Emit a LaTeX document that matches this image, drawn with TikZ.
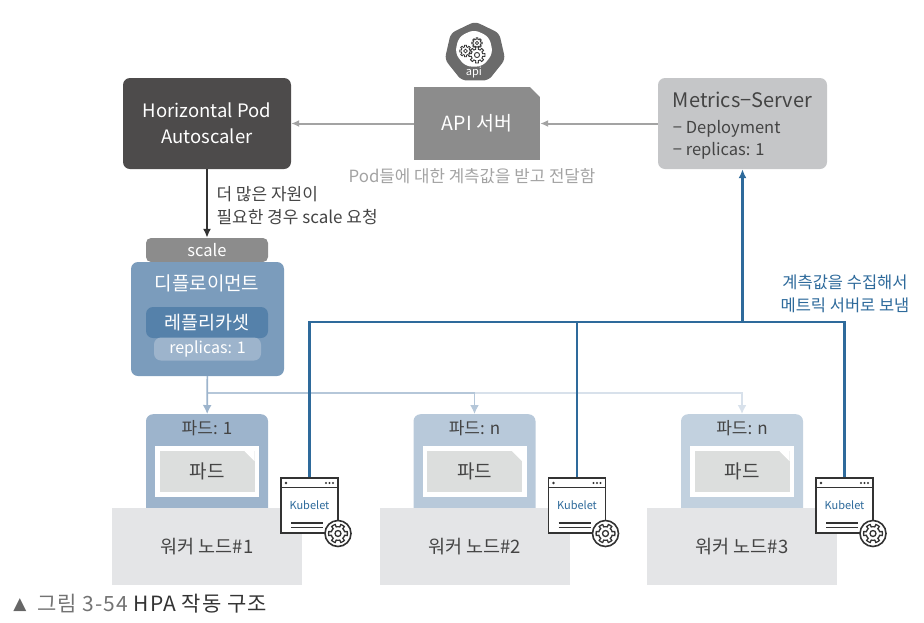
\documentclass[tikz,border=0pt]{standalone}
\usepackage{fontspec}
\setmainfont{Noto Sans CJK KR}
\newfontfamily\symfont{DejaVu Sans}
\newfontfamily\capfont[LetterSpace=5]{Noto Sans CJK KR}
\usetikzlibrary{arrows.meta,shapes.geometric}
\definecolor{DarkBox}{RGB}{77,75,75}
\definecolor{MidGray}{RGB}{140,140,140}
\definecolor{LightBox}{RGB}{197,198,200}
\definecolor{ArrowGray}{RGB}{163,163,163}
\definecolor{DeployBlue}{RGB}{123,156,188}
\definecolor{ReplicaBlue}{RGB}{85,129,170}
\definecolor{SoftBlue}{RGB}{157,180,204}
\definecolor{BusBlue}{RGB}{46,106,155}
\definecolor{WorkerGray}{RGB}{228,229,231}
\definecolor{InnerGray}{RGB}{220,222,221}
\definecolor{TextGray}{RGB}{68,68,68}
\definecolor{IconDark}{RGB}{51,51,51}
\newcommand{\px}[1]{\fontsize{#1}{#1}\selectfont}
\tikzset{
  plainbox/.style={rounded corners=7pt,inner sep=0pt,align=center},
  cutbox/.style={inner sep=0pt,align=center,
    path picture={\fill[white] (path picture bounding box.north east)
      -- ++(-10pt,0pt) -- ++(10pt,-10pt) -- cycle;}},
  servicearrow/.style={-{Latex[length=8pt,width=7pt]},line width=2pt,draw=ArrowGray},
  busline/.style={line width=2.2pt,draw=BusBlue},
  podarrow/.style={-{Latex[length=9pt,width=9pt]},line width=1.6pt},
  kubeletbox/.style={draw=IconDark,line width=1.8pt,fill=white,minimum width=57pt,
    minimum height=55pt,inner sep=0pt,text=BusBlue,font=\px{11}},
  pics/gearicon/.style={code={
    \draw[draw=IconDark,fill=white] plot[domain=0:360,samples=145]
      (\x:{6.8+2.6*(cos(#1*\x)>0)}) -- cycle;
    \draw[draw=IconDark] (0,0) circle (3);
  }},
}
\begin{document}
\begin{tikzpicture}[x=1pt,y=-1pt,>=Latex]
  \useasboundingbox (0,0) rectangle (924,622);
  % top row
  \node[plainbox,fill=DarkBox,minimum width=168pt,minimum height=91pt,text=white,font=\px{18.5}] (hpa) at (207,123.5) {Horizontal Pod\\[8pt]Autoscaler};
  \node[cutbox,fill=MidGray,minimum width=126pt,minimum height=73pt,text=white,font=\px{19.5}] (api) at (477,123.5) {API 서버};
  \node[plainbox,fill=LightBox,minimum width=169pt,minimum height=91pt,text=TextGray,align=left] (metrics) at (742.5,123.5) {{\rule{0pt}{20pt}\px{20}Metrics−Server}\\[11pt]{\px{16.5}− Deployment}\\[4pt]{\px{16.5}− replicas: 1}};
  \node[draw=none,fill=black!58,regular polygon,regular polygon sides=7,minimum size=62pt,inner sep=0pt,rounded corners=5pt] (apiicon) at (475,52.5) {};
  \node[fill=white,regular polygon,regular polygon sides=7,minimum size=39pt,inner sep=0pt,rounded corners=6pt] (apiinner) at (474,49) {};
  \node[text=white,font=\px{11}] (apilabel) at (474,72) {api};
  \pic[scale=0.55,line width=0.8pt] at (477,43) {gearicon=8};
  \pic[scale=0.62,line width=0.8pt] at (465.5,51) {gearicon=8};
  \pic[scale=0.85,line width=0.9pt] at (477,55) {gearicon=8};
  \node[text=ArrowGray,font=\px{16.8}] (podnote) at (472,176) {Pod들에 대한 계측값을 받고 전달함};
  % deployment
  \node[plainbox,fill=MidGray,rounded corners=5pt,minimum width=122pt,minimum height=24pt,text=white,font=\px{16.5}] (scale) at (207,250) {scale};
  \node[plainbox,fill=DeployBlue,minimum width=153pt,minimum height=114pt] (deploy) at (207.5,319) {};
  \node[text=white,font=\px{19}] (deploylabel) at (207,283) {디플로이먼트};
  \node[plainbox,fill=ReplicaBlue,minimum width=122pt,minimum height=31pt,text=white,font=\px{18.5}] (replica) at (207,322.5) {레플리카셋};
  \node[plainbox,fill=SoftBlue,minimum width=107pt,minimum height=23pt,text=white,font=\px{16}] (replicas) at (207.5,349) {replicas: 1};
  \node[text=TextGray,align=left,anchor=west,font=\px{17}] (scalenote) at (213,205.5) {더 많은 자원이\\[6pt]필요한 경우 scale 요청};
  % columns
  \foreach \dx/\cnt/\nn/\podfill in {0/1/1/SoftBlue,267.5/n/2/SoftBlue!72,535/n/3/SoftBlue!62} {
    \begin{scope}[shift={(\dx,0)}]
      \node[plainbox,fill=\podfill,minimum width=122pt,minimum height=106pt,anchor=north] (pod\nn) at (207,414) {};
      \node[text=TextGray,font=\px{17}] (podtitle\nn) at (207,428) {파드: \cnt};
      \node[fill=white,minimum width=104pt,minimum height=51pt,inner sep=0pt] (podframe\nn) at (207,471.5) {};
      \node[cutbox,fill=InnerGray,minimum width=95pt,minimum height=41pt,text=TextGray,font=\px{19}] (podinner\nn) at (207,471.5) {파드};
      \node[fill=WorkerGray,minimum width=190pt,minimum height=77pt,inner sep=0pt,text=TextGray,font=\px{18.5}] (worker\nn) at (207,546.5) {워커 노드\#\nn};
      \node[kubeletbox] (kube\nn) at (309.5,505.5) {\raisebox{-1pt}{Kubelet}};
      \draw[line width=1.4pt,draw=IconDark] (281,487.5) -- (338,487.5);
      \fill[IconDark] (286,483) circle (1.3) (326,483) circle (1.1) (329.5,483) circle (1.1) (333,483) circle (1.1);
      \draw[line width=1.2pt,draw=IconDark] (291,523) -- (323,523) (291,527.5) -- (323,527.5);
      \draw[line width=1.6pt,draw=IconDark,fill=white] (338,533.5) circle (13);
      \pic[line width=1.3pt] at (338,533.5) {gearicon=6};
    \end{scope}
  }
  % connectors
  \draw[servicearrow] (metrics) -- (api);
  \draw[servicearrow] (api) -- (hpa);
  \draw[-{Latex[length=9pt,width=8pt]},line width=2pt,draw=black!80] (hpa) -- (scale);
  \coordinate (split) at (207,393);
  \coordinate (bus) at (742.5,322);
  \draw[podarrow,draw=SoftBlue!40] (split) -| (pod3);
  \draw[podarrow,draw=SoftBlue!75] (split) -| (pod2);
  \draw[podarrow,draw=SoftBlue] (deploy) -- (pod1);
  \draw[busline] (kube1) |- (bus) -| (kube3);
  \draw[busline] (kube2) -- (kube2 |- bus);
  \draw[busline,-{Latex[length=9pt,width=8pt]}] (bus) -- (metrics);
  \node[text=BusBlue,font=\px{16.5},align=center] (busnote) at (845,294) {계측값을 수집해서\\[6pt]메트릭 서버로 보냄};
  % caption
  \node[text=black!60,font=\px{17}\symfont,inner sep=0pt] (capmark) at (20,605) {▲};
  \node[text=IconDark,font=\px{21}\capfont,anchor=west,inner sep=0pt] (caption) at (37,604) {\textcolor{black!55}{그림 3-54} HPA 작동 구조};
\end{tikzpicture}
\end{document}
